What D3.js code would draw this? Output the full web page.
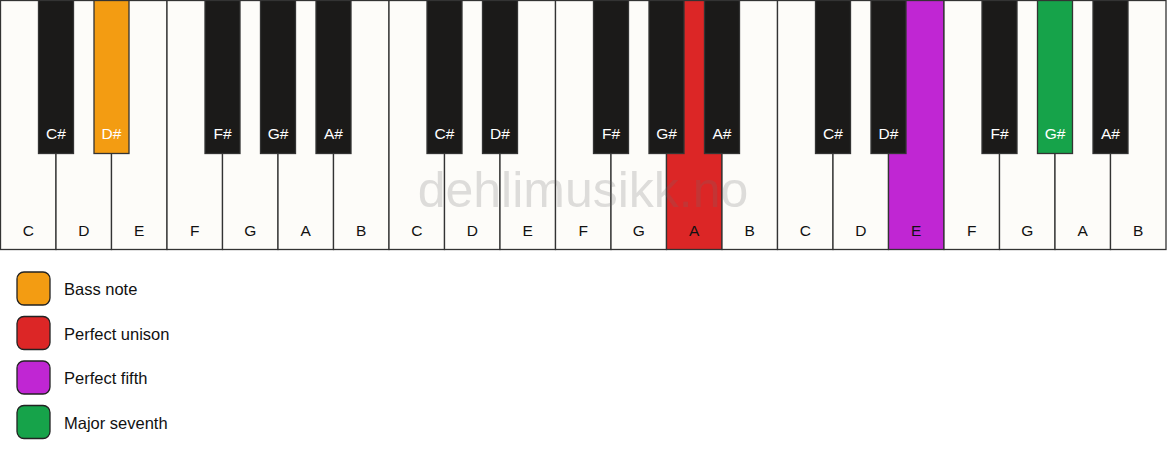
<!DOCTYPE html>
<html><head><meta charset="utf-8">
<script src="https://cdn.jsdelivr.net/npm/d3@7"></script>
<style>body{margin:0;background:#fff;font-family:"Liberation Sans",Arial,sans-serif;}</style>
</head><body>
<svg id="c" width="1167" height="461"></svg>
<script>
const whiteNotes = ["C","D","E","F","G","A","B"];
const octaves = [0,1,2];
const blackNotes = [{name:"C#",after:0},{name:"D#",after:1},{name:"F#",after:3},{name:"G#",after:4},{name:"A#",after:5}];
// highlighted keys: octave index + note name -> role
const highlights = [
  {octave:0, note:"D#", role:"Bass note"},
  {octave:1, note:"A",  role:"Perfect unison"},
  {octave:2, note:"E",  role:"Perfect fifth"},
  {octave:2, note:"G#", role:"Major seventh"}
];
const legendLabels = ["Bass note","Perfect unison","Perfect fifth","Major seventh"];
const legendColors = ["#f39c12","#dc2626","#c026d3","#16a34a"];

const svg = d3.select("#c");
const W = 1166, H = 249.5, blackH = 153, blackW = 35;
const whites = [];
octaves.forEach(o => whiteNotes.forEach((n,i) => whites.push({octave:o, note:n, idx:o*7+i})));
const blacks = [];
octaves.forEach(o => blackNotes.forEach(b => blacks.push({octave:o, note:b.name, boundary:o*7+b.after+1})));

const x = d3.scaleLinear().domain([0, whites.length]).range([0.5, W]);
const color = d3.scaleOrdinal().domain(legendLabels).range(legendColors);
function roleOf(k){ const h = highlights.find(h => h.octave===k.octave && h.note===k.note); return h ? h.role : null; }

const g = svg.append("g");
g.selectAll("rect.w").data(whites).join("rect")
  .attr("x", d => x(d.idx)).attr("y", 0.5)
  .attr("width", d => x(d.idx+1)-x(d.idx)).attr("height", H-0.5)
  .attr("fill", d => roleOf(d) ? color(roleOf(d)) : "#fdfcf9")
  .attr("stroke", "#333").attr("stroke-width", 1.3);

g.selectAll("text.w").data(whites).join("text")
  .attr("x", d => (x(d.idx)+x(d.idx+1))/2).attr("y", 236)
  .attr("text-anchor","middle").attr("font-size", 15.5).attr("fill","#111")
  .text(d => d.note);

g.selectAll("rect.b").data(blacks).join("rect")
  .attr("x", d => x(d.boundary)-blackW/2).attr("y", 0.5)
  .attr("width", blackW).attr("height", blackH)
  .attr("fill", d => roleOf(d) ? color(roleOf(d)) : "#1b1a19")
  .attr("stroke", "#333").attr("stroke-width", 1.3);

g.selectAll("text.b").data(blacks).join("text")
  .attr("x", d => x(d.boundary)).attr("y", 139)
  .attr("text-anchor","middle").attr("font-size", 15.5).attr("fill","#fff")
  .text(d => d.note);

// watermark
svg.append("text").attr("x", 583).attr("y", 207).attr("text-anchor","middle")
  .attr("font-size", 50).attr("fill","rgba(110,110,110,0.22)")
  .text("dehlimusikk.no");

// legend
const lg = svg.append("g").selectAll("g").data(legendLabels).join("g")
  .attr("transform", (d,i) => `translate(17,${272 + i*44.5})`);
lg.append("rect").attr("width",33).attr("height",33).attr("rx",7)
  .attr("fill", d => color(d)).attr("stroke","#222").attr("stroke-width",1.3);
lg.append("text").attr("x",47).attr("y",23).attr("font-size",16.5).attr("fill","#111").text(d => d);
</script>
</body></html>
